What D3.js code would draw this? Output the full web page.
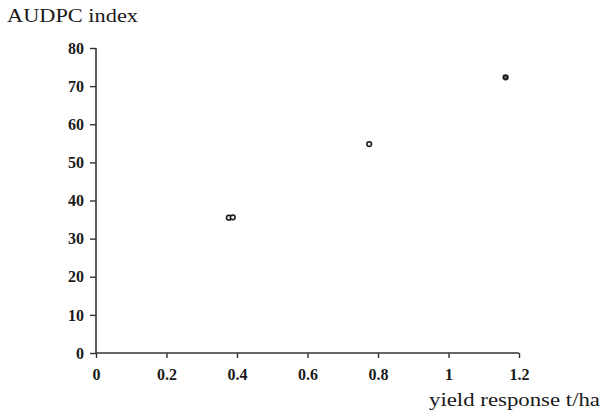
<!DOCTYPE html>
<html>
<head>
<meta charset="utf-8">
<script src="https://cdn.jsdelivr.net/npm/d3@7"></script>
<style>
  html, body { margin: 0; padding: 0; background: #fff; }
  svg { display: block; }
</style>
</head>
<body>
<script>
// AUDPC index against yield response
const yieldResponse = [0.377, 0.388, 0.775, 1.162];
const audpcIndex = [35.5, 35.6, 54.8, 72.3];
const xTicks = [0, 0.2, 0.4, 0.6, 0.8, 1, 1.2];
const yTicks = [0, 10, 20, 30, 40, 50, 60, 70, 80];

const W = 604, H = 416;
const serif = "Liberation Serif";
const svg = d3.select("body").append("svg").attr("width", W).attr("height", H);

const x = d3.scaleLinear().domain([0, 1.2]).range([96, 519]);
const y = d3.scaleLinear().domain([0, 80]).range([353, 48]);

const ink = "#333";

// y axis
const yAxis = svg.append("g").attr("transform", `translate(${x(0)},0)`)
  .call(d3.axisLeft(y).tickValues(yTicks).tickSize(6).tickPadding(6).tickFormat(d3.format("d")));
// x axis
const xAxis = svg.append("g").attr("transform", `translate(0,${y(0)})`)
  .call(d3.axisBottom(x).tickValues(xTicks).tickSize(5).tickPadding(11)
    .tickFormat(d => d === 0 || d === 1 ? String(d) : d3.format(".1f")(d)));

[yAxis, xAxis].forEach(g => {
  g.attr("font-family", serif).attr("font-size", 16).attr("font-weight", "bold");
  g.select(".domain").attr("stroke", ink).attr("stroke-width", 1.6);
  g.selectAll(".tick line").attr("stroke", ink).attr("stroke-width", 1.4);
  g.selectAll(".tick text").attr("fill", "#1a1a1a");
});
// keep the axes as plain lines without outer end caps
yAxis.select(".domain").attr("d", `M0,${y(80)}V${y(0)}`);
xAxis.select(".domain").attr("d", `M${x(0)},0H${x(1.2)}`);

// markers
svg.append("g").selectAll("circle")
  .data(yieldResponse.map((v, i) => [v, audpcIndex[i]]))
  .join("circle")
  .attr("cx", d => x(d[0]))
  .attr("cy", d => y(d[1]))
  .attr("r", 2.4)
  .attr("fill", (d, i) => i === 3 ? "#555" : "#e8e8e8")
  .attr("stroke", "#1a1a1a")
  .attr("stroke-width", 1.5);

// axis titles
svg.append("text")
  .attr("x", 7).attr("y", 22)
  .attr("font-family", serif).attr("font-size", 19).attr("fill", "#1a1a1a")
  .attr("textLength", 131).attr("lengthAdjust", "spacingAndGlyphs")
  .text("AUDPC index");

svg.append("text")
  .attr("x", 429).attr("y", 406)
  .attr("font-family", serif).attr("font-size", 19).attr("fill", "#1a1a1a")
  .attr("textLength", 171).attr("lengthAdjust", "spacingAndGlyphs")
  .text("yield response t/ha");
</script>
</body>
</html>
